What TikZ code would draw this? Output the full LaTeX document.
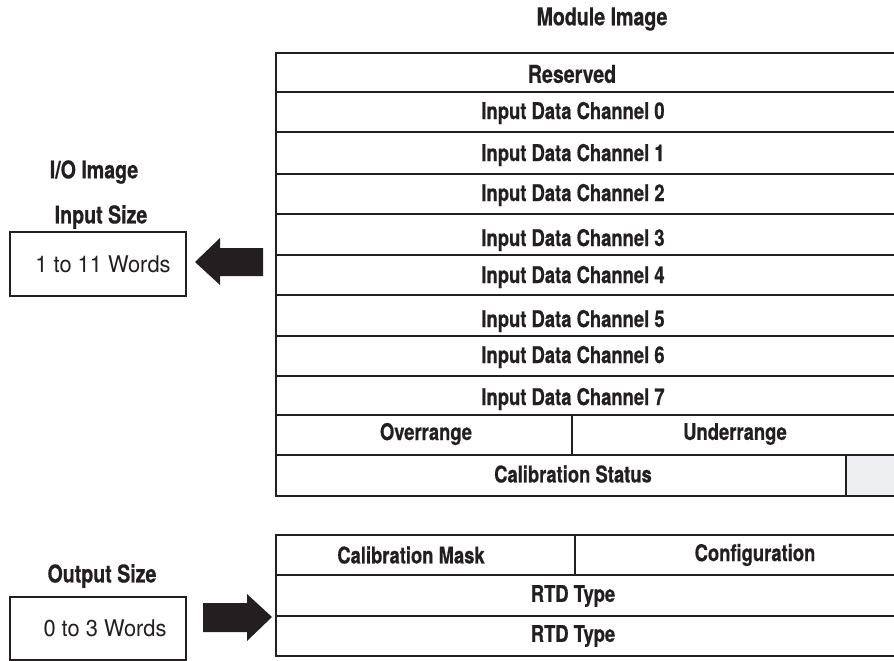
\documentclass[tikz,border=0pt]{standalone}
\usepackage{fontspec}
\setmainfont{TeX Gyre Heros}
\newfontfamily\condfont{TeX Gyre Heros}[FakeStretch=0.80,FakeBold=0.6]
\newfontfamily\narrowfont{TeX Gyre Heros}[FakeStretch=0.95]
\definecolor{ink}{HTML}{231F20}
\definecolor{cellgray}{HTML}{EEEFF0}
\begin{document}
\begin{tikzpicture}[x=1pt,y=-1pt,
  grid/.style={draw=ink,line width=2.2pt},
  wordbox/.style={draw=ink,line width=2pt},
  cell/.style={font=\condfont\bfseries\fontsize{23}{26}\selectfont,text=ink,inner sep=0pt},
  title/.style={font=\condfont\bfseries\fontsize{24.5}{28}\selectfont,text=ink,inner sep=0pt},
  plain/.style={font=\narrowfont\fontsize{23}{26}\selectfont,text=ink,inner sep=0pt},
  blockarrow/.style={fill=ink,draw=none}]
\useasboundingbox (0,0) rectangle (894,661);

% ---------- module image: input words ----------
\fill[cellgray] (846,455) rectangle (894,496);
\draw[grid] (900,53) -- (276,53) -- (276,496) -- (900,496);
\foreach \yy in {92,132,174,214,255,295,336,376,415,455}
  \draw[grid] (276,\yy) -- (900,\yy);
\draw[grid] (572,415) -- (572,455);
\draw[grid] (846,455) -- (846,496);

\node[title] (modimg) at (602,19) {Module Image};
\node[title] (res) at (572,74) {Reserved};
\node[cell] (ch0) at (573,113) {Input Data Channel 0};
\node[cell] (ch1) at (573,155) {Input Data Channel 1};
\node[cell] (ch2) at (573,195) {Input Data Channel 2};
\node[cell] (ch3) at (573,240) {Input Data Channel 3};
\node[cell] (ch4) at (573,277) {Input Data Channel 4};
\node[cell] (ch5) at (573,321) {Input Data Channel 5};
\node[cell] (ch6) at (573,357) {Input Data Channel 6};
\node[cell] (ch7) at (573,399) {Input Data Channel 7};
\node[cell] (over) at (426,434) {Overrange};
\node[cell] (under) at (735,434) {Underrange};
\node[cell] (calstat) at (573,474) {Calibration Status};

% ---------- module image: output words ----------
\draw[grid] (900,535) -- (276,535) -- (276,656) -- (900,656);
\draw[grid] (276,575) -- (900,575);
\draw[grid] (276,616) -- (900,616);
\draw[grid] (575,535) -- (575,575);

\node[cell] (calmask) at (411,555) {Calibration Mask};
\node[cell] (config) at (755,555) {Configuration};
\node[cell] (rtd1) at (573,596) {RTD Type};
\node[cell] (rtd2) at (573,636) {RTD Type};

% ---------- I/O image side ----------
\node[title] (ioimg) at (94,172) {I/O Image};
\node[title] (insize) at (101,217) {Input Size};
\draw[wordbox] (10,232) rectangle (186,296);
\node[plain] (inwords) at (103,264) {1 to 11 Words};

\node[title] (outsize) at (102,576) {Output Size};
\draw[wordbox] (10,597) rectangle (186,660);
\node[plain] (outwords) at (105,628) {0 to 3 Words};

% ---------- block arrows ----------
\fill[blockarrow] (195,262) -- (220,238) -- (220,248) -- (263,248)
  -- (263,276) -- (220,276) -- (220,285) -- cycle;
\fill[blockarrow] (272,617) -- (247,594) -- (247,603) -- (203,603)
  -- (203,632) -- (247,632) -- (247,641) -- cycle;
\end{tikzpicture}
\end{document}
